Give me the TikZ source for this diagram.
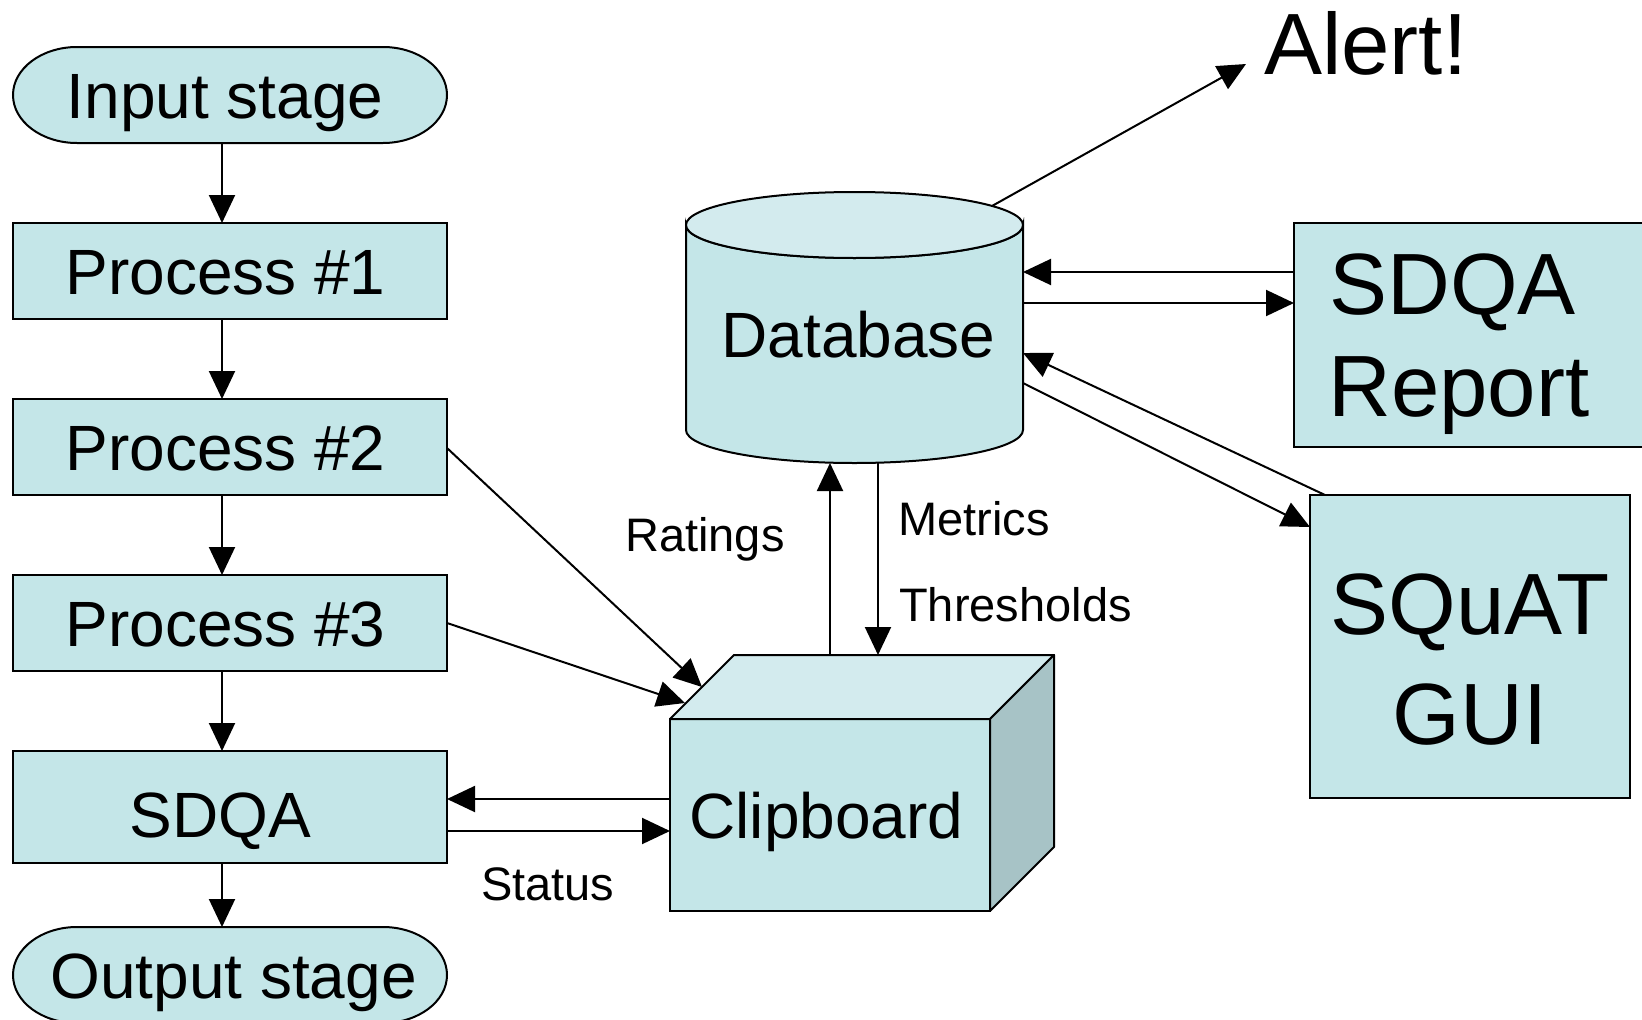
\documentclass[tikz,border=0pt]{standalone}
\usepackage{fontspec}
\setmainfont{Liberation Sans}
\usetikzlibrary{arrows.meta,calc,backgrounds}
\definecolor{boxfill}{RGB}{196,230,232}
\definecolor{toplight}{RGB}{211,235,238}
\definecolor{sideshade}{RGB}{167,195,198}
\begin{document}
\begin{tikzpicture}[x=1pt,y=-1pt,
  shapebox/.style={draw=black, line width=2pt, fill=boxfill, inner sep=0pt, outer sep=0pt},
  plain/.style={inner sep=0pt, outer sep=0pt},
  midtext/.style={font=\fontsize{64}{70}\selectfont, text height=46pt, text depth=0pt},
  lbl/.style={font=\fontsize{47}{52}\selectfont, inner sep=0pt, anchor=base west},
  big/.style={font=\fontsize{87}{101}\selectfont, inner sep=0pt},
  conn/.style={line width=2pt, -{Triangle[length=28pt,width=26pt]}},
  face/.style={draw=black, line width=2pt, line join=round}
]
\useasboundingbox (0,0) rectangle (1642,1020);
\clip (0,0) rectangle (1642,1020);

% left column
\node[plain, midtext, minimum width=434pt, minimum height=96pt] (in) at (230,95) {\hspace*{-10pt}Input stage};
\node[shapebox, midtext, minimum width=434pt, minimum height=96pt] (p1) at (230,271) {\hspace*{-9pt}Process \#1};
\node[shapebox, midtext, minimum width=434pt, minimum height=96pt] (p2) at (230,447) {\hspace*{-9pt}Process \#2};
\node[shapebox, midtext, minimum width=434pt, minimum height=96pt] (p3) at (230,623) {\hspace*{-9pt}Process \#3};
\node[shapebox, midtext, text height=60pt, minimum width=434pt, minimum height=112pt] (sdqa) at (230,807) {\hspace*{-20pt}SDQA};
\node[plain, midtext, minimum width=434pt, minimum height=96pt] (out) at (230,975) {\hspace*{7pt}Output stage};

% database
\node[plain, midtext, text height=60pt, minimum width=337pt, minimum height=272pt] (db) at (854.5,327) {\hspace*{8pt}Database};

% clipboard
\node[shapebox, midtext, minimum width=320pt, minimum height=192pt] (clip) at (830,815) {\hspace*{-7pt}Clipboard};
\draw[face, fill=toplight] (clip.north west) -- ++(64,-64) -- ($(clip.north east)+(64,-64)$) -- (clip.north east) -- cycle;
\draw[face, fill=sideshade] (clip.north east) -- ++(64,-64) -- ($(clip.south east)+(64,-64)$) -- (clip.south east) -- cycle;

% right boxes
\node[shapebox, minimum width=406pt, minimum height=224pt, anchor=north west] (report) at (1294,223) {};
\node[big, anchor=base west] (reportl1) at (1329,314) {SDQA};
\node[big, anchor=base west] (reportl2) at (1328,416) {Report};
\node[shapebox, minimum width=320pt, minimum height=303pt, anchor=north west] (squat) at (1310,495) {};
\node[big, anchor=base] (squatl1) at (1470,634) {SQuAT};
\node[big, anchor=base] (squatl2) at (1470,744) {GUI};

% alert
\node[big, anchor=base west] (alert) at (1264,74) {Alert!};
\coordinate (alerttip) at (1246,64);

% backgrounds: stadiums and cylinder
\begin{scope}[on background layer]
\foreach \n in {in,out}{
  \path[shapebox] ($(\n.north west)+(64,0)$) -- ($(\n.north east)+(-64,0)$)
    arc[start angle=90, end angle=-90, x radius=64pt, y radius=48pt]
    -- ($(\n.south west)+(64,0)$)
    arc[start angle=-90, end angle=-270, x radius=64pt, y radius=48pt] -- cycle;
}
\path[shapebox] ($(db.north west)+(0,34)$) -- ($(db.south west)+(0,-33)$)
  arc[start angle=180, end angle=360, x radius=168.5pt, y radius=33pt]
  -- ($(db.north east)+(0,34)$)
  arc[start angle=0, end angle=-180, x radius=168.5pt, y radius=33pt] -- cycle;
\path[shapebox, fill=toplight] ($(db.north)+(0,34)$) ellipse[x radius=168.5pt, y radius=33pt];
\end{scope}

% connectors: left column
\draw[conn] ($(in.south)+(-8,0)$) -- ($(p1.north)+(-8,0)$);
\draw[conn] ($(p1.south)+(-8,0)$) -- ($(p2.north)+(-8,0)$);
\draw[conn] ($(p2.south)+(-8,0)$) -- ($(p3.north)+(-8,0)$);
\draw[conn] ($(p3.south)+(-8,0)$) -- ($(sdqa.north)+(-8,0)$);
\draw[conn] ($(sdqa.south)+(-8,0)$) -- ($(out.north)+(-8,0)$);

% to clipboard
\draw[conn] ($(p2.east)+(0,1)$) -- ($(clip.north west)+(32,-32)$);
\draw[conn] (p3.east) -- ($(clip.north west)+(15,-16)$);
\draw[conn] ($(clip.west)+(0,-16)$) -- ($(sdqa.east)+(0,-8)$);
\draw[conn] ($(sdqa.east)+(0,24)$) -- ($(clip.west)+(0,16)$);

% clipboard <-> database
\draw[conn] ($(clip.north)+(0,-64)$) -- ($(db.south)+(-24.5,0)$);
\draw[conn] ($(db.south)+(23.5,0)$) -- ($(clip.north)+(48,-64)$);

% database <-> right
\draw[conn] ($(db.north)+(137.5,15)$) -- (alerttip);
\draw[conn] ($(report.west)+(0,-63)$) -- ($(db.east)+(0,-55)$);
\draw[conn] ($(db.east)+(0,-24)$) -- ($(report.west)+(0,-32)$);
\draw[conn] ($(squat.north west)+(15,0)$) -- ($(db.east)+(0,26)$);
\draw[conn] ($(db.east)+(0,56)$) -- ($(squat.north west)+(0,32)$);

% labels
\node[lbl] (ratings) at (625,551) {Ratings};
\node[lbl] (metrics) at (898,535) {Metrics};
\node[lbl] (thresh) at (899,621) {Thresholds};
\node[lbl] (status) at (481,900) {Status};
\end{tikzpicture}
\end{document}
